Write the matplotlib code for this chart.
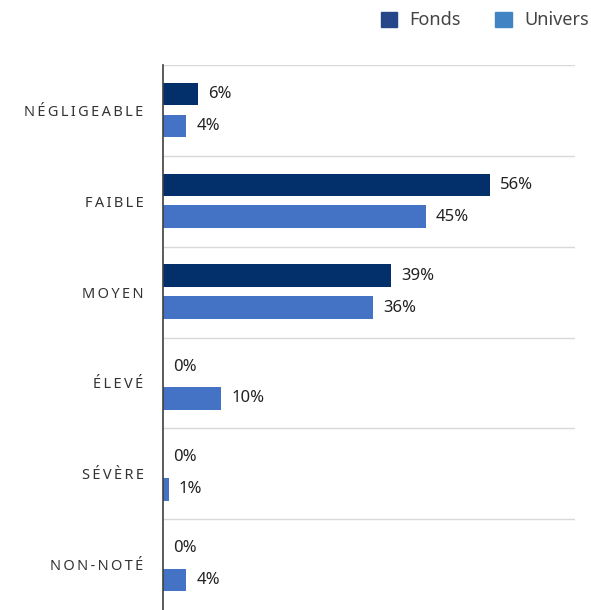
import matplotlib.pyplot as plt
from matplotlib.patches import Patch
import numpy as np

plt.rcParams['font.family'] = ['Noto Sans', 'DejaVu Sans']

categories = ['NÉGLIGEABLE', 'FAIBLE', 'MOYEN', 'ÉLEVÉ', 'SÉVÈRE', 'NON-NOTÉ']
fonds = [6, 56, 39, 0, 0, 0]
univers = [4, 45, 36, 10, 1, 4]

c_fonds = '#03306a'
c_univers = '#4472c4'

fig = plt.figure(figsize=(5.91, 6.10), dpi=100)
ax = fig.add_axes([0.2758, 0.0, 0.9729 - 0.2758, 0.8934])

y = np.arange(len(categories))
h = 0.25
ax.barh(y - 0.18, fonds, height=h, color=c_fonds)
ax.barh(y + 0.17, univers, height=h, color=c_univers)

for i in range(len(categories)):
    ax.text(fonds[i] + 1.7, y[i] - 0.18, f'{fonds[i]}%', va='center', ha='left',
            fontsize=12, color='#222222')
    ax.text(univers[i] + 1.7, y[i] + 0.17, f'{univers[i]}%', va='center', ha='left',
            fontsize=12, color='#222222')

ax.set_xlim(0, 70.5)
ax.set_ylim(len(categories) - 0.5, -0.5)
for b in np.arange(-0.5, len(categories) - 0.5, 1):
    ax.axhline(b, color='#d9d9d9', lw=1, zorder=0)

ax.set_yticks(y)
ax.set_yticklabels(['\u2009'.join(c) for c in categories], fontsize=10.5, color='#333333')
ax.tick_params(axis='y', length=0, pad=14)
ax.set_xticks([])
for s in ['top', 'right', 'bottom']:
    ax.spines[s].set_visible(False)
ax.spines['left'].set_color('#404040')
ax.spines['left'].set_linewidth(1.2)

handles = [Patch(color='#264789', label='Fonds'), Patch(color='#4283c4', label='Univers')]
fig.legend(handles=handles, loc='upper right', bbox_to_anchor=(1.024, 1.008), ncol=2,
           frameon=False, fontsize=13, handlelength=0.9, handleheight=0.9,
           columnspacing=1.9, handletextpad=0.7, labelcolor='#444444')

fig.savefig('out.png', dpi=100)
